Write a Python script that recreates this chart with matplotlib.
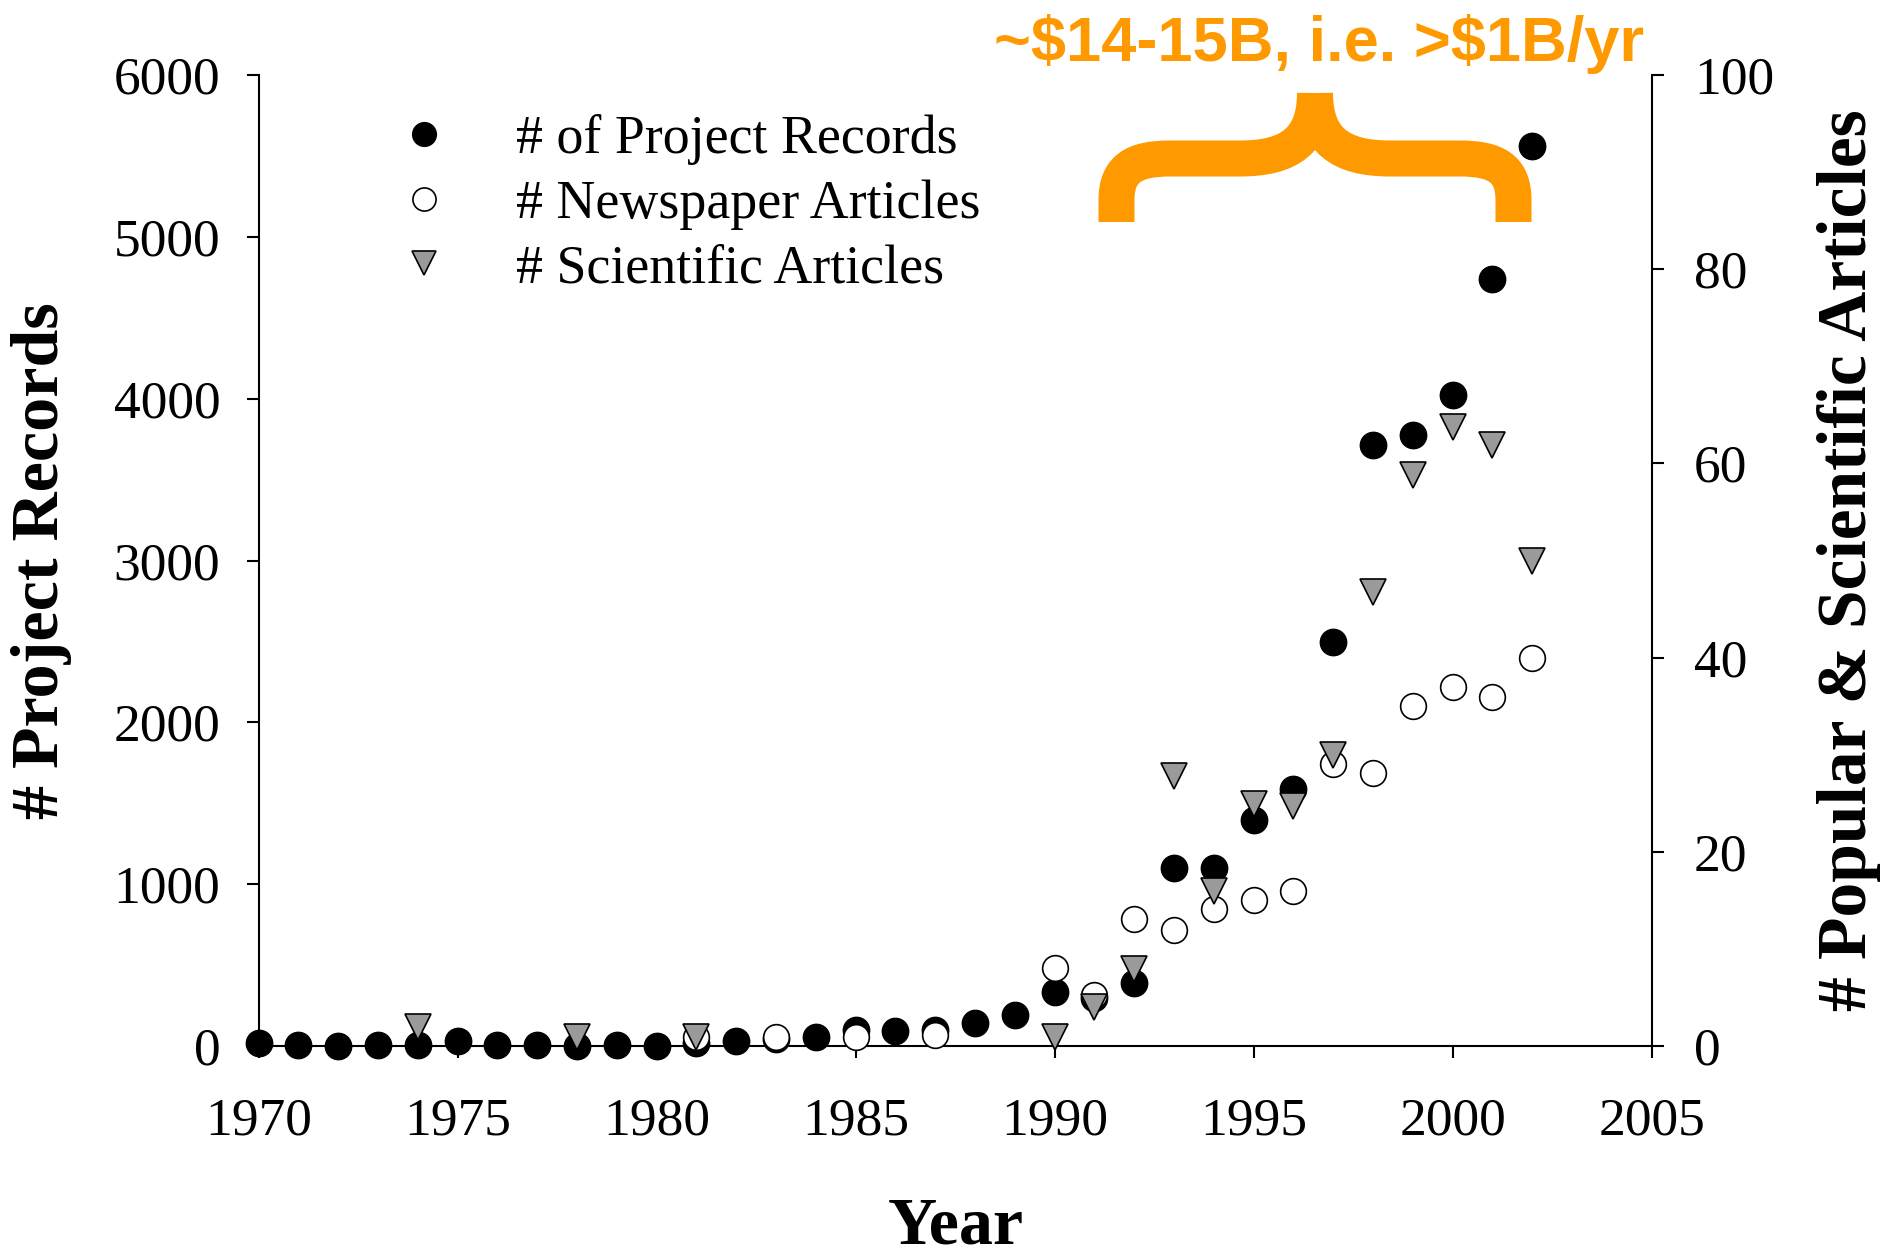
import numpy as np
import matplotlib
matplotlib.use("Agg")
import matplotlib.pyplot as plt
from matplotlib.path import Path
from matplotlib.patches import PathPatch
from matplotlib.transforms import Affine2D

# ---------------- data ----------------
rec_years = list(range(1970, 2003))
rec_vals = [20, 10, 5, 10, 10, 30, 10, 10, 5, 10, 5, 20, 30, 45, 60, 100, 95, 100,
            146, 194, 338, 300, 393, 1103, 1103, 1397, 1589, 2495, 3713, 3772, 4025, 4738, 5562]

news_years = [1981, 1983, 1985, 1987, 1990, 1991, 1992, 1993, 1994, 1995, 1996,
              1997, 1998, 1999, 2000, 2001, 2002]
news_vals = [1, 1, 1, 1.2, 8.1, 5.3, 13.1, 12.0, 14.1, 15.1, 16.0,
             29.1, 28.1, 35.0, 37.0, 36.0, 40.0]

sci_years = [1974, 1978, 1981, 1990, 1991, 1992, 1993, 1994, 1995, 1996,
             1997, 1998, 1999, 2000, 2001, 2002]
sci_vals = [2, 1, 1, 1, 4.1, 8.0, 27.8, 16.0, 24.9, 24.7,
            30.0, 46.8, 58.8, 63.7, 61.9, 49.9]

x_ticks = [1970, 1975, 1980, 1985, 1990, 1995, 2000, 2005]
left_ticks = [0, 1000, 2000, 3000, 4000, 5000, 6000]
right_ticks = [0, 20, 40, 60, 80, 100]

label_rec = "# of Project Records"
label_news = "# Newspaper Articles"
label_sci = "# Scientific Articles"
annot_text = r"~\$14-15B, i.e. >\$1B/yr"

# ---------------- figure ----------------
W, H = 1886, 1259
DPI = 100
serif = ["Liberation Serif", "DejaVu Serif"]
plt.rcParams["font.family"] = serif

fig = plt.figure(figsize=(W / DPI, H / DPI), dpi=DPI)
ax = fig.add_axes([0.1371, 0.1689, 0.8757 - 0.1371, 0.9407 - 0.1689])
ax2 = ax.twinx()

ax.set_xlim(1970, 2005)
ax.set_ylim(0, 6000)
ax2.set_ylim(0, 100)

h1, = ax.plot(rec_years, rec_vals, ls="none", marker="o", ms=19, mfc="black",
              mec="black", mew=1.0, clip_on=False, label=label_rec, zorder=3)
h2, = ax2.plot(news_years, news_vals, ls="none", marker="o", ms=18.5, mfc="white",
               mec="black", mew=1.2, clip_on=False, label=label_news, zorder=3)
h3, = ax2.plot(sci_years, sci_vals, ls="none", marker="v", ms=19, mfc="#9a9a9a",
               mec="black", mew=1.2, clip_on=False, label=label_sci, zorder=4)

ax.set_xticks(x_ticks)
ax.set_yticks(left_ticks)
ax2.set_yticks(right_ticks)

for a in (ax, ax2):
    a.spines["top"].set_visible(False)
    for s in a.spines.values():
        s.set_linewidth(1.5)
ax.spines["right"].set_visible(False)
ax2.spines["left"].set_visible(False)
ax2.spines["bottom"].set_visible(False)

ax.tick_params(axis="x", direction="out", length=8.6, width=1.5, labelsize=38.5, pad=28)
ax.tick_params(axis="y", direction="out", length=8.6, width=1.5, labelsize=38.5, pad=19)
ax2.tick_params(axis="y", direction="out", length=8.6, width=1.5, labelsize=38.5, pad=22)

ax.set_xlabel("Year", fontsize=49, fontweight="bold", va="center")
ax.xaxis.set_label_coords(0.5007, -0.186)
ax.set_ylabel("# Project Records", fontsize=49, fontweight="bold", va="center")
ax.yaxis.set_label_coords(-0.1555, 0.5)
ax2.set_ylabel("# Popular & Scientific Articles", fontsize=50, fontweight="bold",
               va="center", rotation=90)
ax2.yaxis.set_label_coords(1.1418, 0.5)

fs = 38.8
leg = ax2.legend(handles=[h1, h2, h3], loc="upper left",
                 bbox_to_anchor=(396.6 / W, 1 - 114 / H), bbox_transform=fig.transFigure,
                 frameon=False, fontsize=fs, handlelength=1.0, handletextpad=1.22,
                 borderpad=0, borderaxespad=0, labelspacing=0.26, markerscale=0.9)

# ---------------- orange brace annotation (figure pixel coords, y down) ----------------
to_fig = Affine2D().scale(1.0 / W, -1.0 / H).translate(0, 1) + fig.transFigure
lx, rx, tipx = 1116.5, 1513.5, 1315.0
yb, yband, ytip = 222.0, 158.5, 93.0
verts = [
    (lx, yb), (lx, 200),
    (lx, 168), (1135, yband), (1170, yband),
    (1240, yband),
    (1290, yband), (tipx, 140), (tipx, ytip),
    (tipx, ytip),
    (tipx, 140), (1340, yband), (1390, yband),
    (1460, yband),
    (1495, yband), (rx, 168), (rx, 200),
    (rx, yb),
]
codes = [Path.MOVETO, Path.LINETO,
         Path.CURVE4, Path.CURVE4, Path.CURVE4,
         Path.LINETO,
         Path.CURVE4, Path.CURVE4, Path.CURVE4,
         Path.MOVETO,
         Path.CURVE4, Path.CURVE4, Path.CURVE4,
         Path.LINETO,
         Path.CURVE4, Path.CURVE4, Path.CURVE4,
         Path.LINETO]
brace = PathPatch(Path(verts, codes), transform=to_fig, facecolor="none",
                  edgecolor="#FF9900", linewidth=36 * 72 / DPI, capstyle="butt",
                  joinstyle="round")
brace.set_clip_on(False)
fig.add_artist(brace)

fig.text(1319 / W, 1 - 44 / H, annot_text, color="#FF9900", fontsize=45.5,
         fontweight="bold", family=["Liberation Sans", "DejaVu Sans"],
         ha="center", va="center")

fig.savefig("out.png", dpi=DPI)
